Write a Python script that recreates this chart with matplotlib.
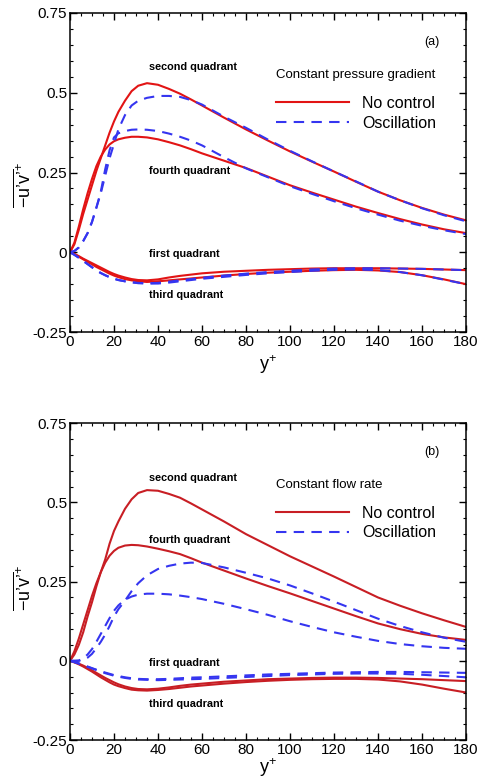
import matplotlib
matplotlib.use("Agg")
import matplotlib.pyplot as plt
from matplotlib.ticker import MultipleLocator

plt.rcParams["font.family"] = ["Liberation Sans", "DejaVu Sans"]
plt.rcParams["mathtext.fontset"] = "custom"
plt.rcParams["mathtext.rm"] = "Liberation Sans"
plt.rcParams["mathtext.it"] = "Liberation Sans"

# wall distance y+
Y_PLUS = [0, 2, 4, 6, 8, 10, 12, 14, 16, 18, 20, 22, 25, 28, 31, 35, 40, 45, 50, 55, 60,
          70, 80, 90, 100, 110, 120, 130, 140, 150, 160, 170, 180]

# (a) constant pressure gradient
A_NC_Q2 = [0, 0.025, 0.07, 0.12, 0.165, 0.21, 0.255, 0.295, 0.335, 0.375, 0.41, 0.44, 0.475,
           0.505, 0.522, 0.53, 0.525, 0.512, 0.497, 0.479, 0.46,
           0.422, 0.385, 0.35, 0.316, 0.284, 0.253, 0.221, 0.19, 0.163, 0.139, 0.118, 0.10]
A_NC_Q4 = [0, 0.03, 0.08, 0.135, 0.185, 0.23, 0.27, 0.30, 0.322, 0.338, 0.348, 0.354, 0.359,
           0.362, 0.362, 0.36, 0.354, 0.345, 0.335, 0.323, 0.31,
           0.287, 0.264, 0.237, 0.21, 0.187, 0.165, 0.143, 0.123, 0.104, 0.087, 0.072, 0.06]
A_NC_Q1 = [0, -0.005, -0.012, -0.02, -0.027, -0.034, -0.041, -0.048, -0.055, -0.062, -0.068,
           -0.073, -0.079, -0.084, -0.087, -0.088, -0.085, -0.079, -0.074, -0.07, -0.066,
           -0.061, -0.058, -0.055, -0.053, -0.051, -0.05, -0.05, -0.05, -0.051, -0.052, -0.054, -0.056]
A_NC_Q3 = [0, -0.006, -0.014, -0.022, -0.03, -0.038, -0.046, -0.053, -0.06, -0.067, -0.073,
           -0.078, -0.084, -0.088, -0.091, -0.093, -0.091, -0.088, -0.085, -0.082, -0.079,
           -0.073, -0.068, -0.064, -0.061, -0.058, -0.056, -0.055, -0.057, -0.062, -0.072, -0.085, -0.10]
A_OS_Q2 = [0, 0.004, 0.015, 0.035, 0.06, 0.095, 0.14, 0.185, 0.24, 0.295, 0.34, 0.385, 0.43,
           0.46, 0.475, 0.484, 0.49, 0.49, 0.487, 0.477, 0.463,
           0.425, 0.39, 0.353, 0.318, 0.285, 0.253, 0.222, 0.19, 0.163, 0.138, 0.116, 0.097]
A_OS_Q4 = [0, 0.004, 0.015, 0.035, 0.06, 0.095, 0.14, 0.19, 0.26, 0.32, 0.36, 0.373, 0.38,
           0.384, 0.385, 0.384, 0.38, 0.372, 0.362, 0.35, 0.335,
           0.298, 0.263, 0.235, 0.207, 0.183, 0.16, 0.138, 0.118, 0.099, 0.083, 0.069, 0.057]
A_OS_Q1 = [0, -0.008, -0.017, -0.027, -0.037, -0.047, -0.057, -0.065, -0.072, -0.078, -0.083,
           -0.087, -0.091, -0.094, -0.096, -0.097, -0.096, -0.092, -0.088, -0.084, -0.08,
           -0.073, -0.067, -0.062, -0.058, -0.054, -0.051, -0.05, -0.05, -0.051, -0.052, -0.054, -0.056]
A_OS_Q3 = [0, -0.008, -0.017, -0.027, -0.037, -0.047, -0.057, -0.065, -0.072, -0.078, -0.083,
           -0.087, -0.091, -0.094, -0.097, -0.098, -0.098, -0.095, -0.091, -0.087, -0.083,
           -0.077, -0.071, -0.066, -0.062, -0.058, -0.055, -0.054, -0.056, -0.062, -0.072, -0.086, -0.10]

# (b) constant flow rate
B_NC_Q2 = [0, 0.02, 0.05, 0.09, 0.14, 0.185, 0.235, 0.28, 0.32, 0.37, 0.41, 0.44, 0.48,
           0.51, 0.53, 0.539, 0.537, 0.527, 0.515, 0.497, 0.478,
           0.44, 0.40, 0.365, 0.33, 0.298, 0.266, 0.233, 0.20, 0.174, 0.15, 0.128, 0.107]
B_NC_Q4 = [0, 0.03, 0.07, 0.115, 0.16, 0.205, 0.245, 0.28, 0.31, 0.332, 0.347, 0.357, 0.364,
           0.366, 0.365, 0.361, 0.354, 0.346, 0.337, 0.324, 0.31,
           0.285, 0.26, 0.236, 0.213, 0.189, 0.165, 0.141, 0.118, 0.10, 0.085, 0.074, 0.066]
B_NC_Q1 = [0, -0.004, -0.009, -0.015, -0.022, -0.03, -0.038, -0.046, -0.054, -0.061, -0.068,
           -0.074, -0.081, -0.086, -0.089, -0.09, -0.088, -0.084, -0.079, -0.075, -0.072,
           -0.066, -0.062, -0.058, -0.056, -0.054, -0.053, -0.053, -0.054, -0.056, -0.058, -0.061, -0.064]
B_NC_Q3 = [0, -0.005, -0.011, -0.018, -0.026, -0.034, -0.043, -0.052, -0.06, -0.068, -0.075,
           -0.08, -0.086, -0.091, -0.093, -0.094, -0.092, -0.089, -0.085, -0.081, -0.078,
           -0.072, -0.067, -0.063, -0.06, -0.058, -0.057, -0.057, -0.059, -0.065, -0.075, -0.088, -0.10]
B_OS_Q2 = [0, 0.0, 0.0, 0.003, 0.01, 0.022, 0.04, 0.06, 0.083, 0.11, 0.14, 0.163, 0.19,
           0.22, 0.245, 0.27, 0.29, 0.30, 0.307, 0.31, 0.309,
           0.295, 0.278, 0.26, 0.238, 0.213, 0.187, 0.16, 0.133, 0.11, 0.09, 0.073, 0.06]
B_OS_Q4 = [0, 0.0, 0.001, 0.008, 0.02, 0.037, 0.06, 0.085, 0.11, 0.135, 0.158, 0.175, 0.193,
           0.203, 0.209, 0.212, 0.212, 0.21, 0.206, 0.201, 0.195,
           0.18, 0.163, 0.145, 0.125, 0.107, 0.09, 0.076, 0.063, 0.053, 0.046, 0.041, 0.038]
B_OS_Q1 = [0, -0.004, -0.008, -0.013, -0.018, -0.023, -0.028, -0.033, -0.037, -0.041, -0.045,
           -0.048, -0.052, -0.055, -0.057, -0.058, -0.058, -0.057, -0.055, -0.053, -0.052,
           -0.049, -0.046, -0.043, -0.041, -0.039, -0.037, -0.036, -0.035, -0.035, -0.036, -0.037, -0.038]
B_OS_Q3 = [0, -0.004, -0.009, -0.014, -0.019, -0.024, -0.029, -0.034, -0.039, -0.043, -0.047,
           -0.05, -0.054, -0.057, -0.059, -0.06, -0.061, -0.06, -0.059, -0.058, -0.057,
           -0.054, -0.051, -0.048, -0.045, -0.043, -0.041, -0.04, -0.04, -0.041, -0.044, -0.048, -0.052]

QUAD_LABELS = ["second quadrant", "fourth quadrant", "first quadrant", "third quadrant"]
LABEL_Y_A = [0.58, 0.255, -0.005, -0.134]
LABEL_Y_B = [0.576, 0.383, -0.008, -0.135]

BLUE = "#3535f0"
DASH = (0, (5, 3.5))


def panel(ax, nc, osc, red, tag, title, label_y, ylab_y, xpad):
    for k, c in enumerate(nc):
        ax.plot(Y_PLUS, c, "-", color=red, lw=1.5, solid_joinstyle="round",
                label="No control" if k == 0 else None)
    for k, c in enumerate(osc):
        ax.plot(Y_PLUS, c, linestyle=DASH, color=BLUE, lw=1.5, dash_joinstyle="round",
                label="Oscillation" if k == 0 else None)
    #
    ax.set_xlim(0, 180)
    ax.set_ylim(-0.25, 0.75)
    ax.xaxis.set_major_locator(MultipleLocator(20))
    ax.xaxis.set_minor_locator(MultipleLocator(5))
    ax.yaxis.set_minor_locator(MultipleLocator(0.05))
    ax.set_yticks([-0.25, 0, 0.25, 0.5, 0.75])
    ax.set_yticklabels(["-0.25", "0", "0.25", "0.5", "0.75"])
    ax.tick_params(which="both", direction="in", top=True, right=True, labelsize=11, pad=2)
    ax.tick_params(which="major", length=5, width=1)
    ax.tick_params(which="minor", length=2.5, width=0.8)
    for s in ax.spines.values():
        s.set_linewidth(1.1)
    #
    ax.set_xlabel("$y^{+}$", fontsize=13, labelpad=xpad)
    ax.set_ylabel("$\\overline{-u\u2019v\u2019}^{+}$", fontsize=13)
    ax.yaxis.set_label_coords(-0.09, ylab_y)
    #
    for t, yy in zip(QUAD_LABELS, label_y):
        ax.text(36, yy, t, fontsize=7.8, fontweight="bold", va="center", ha="left")
    ax.text(161, 0.66, tag, fontsize=9, va="center")
    ax.text(93.5, 0.556, title, fontsize=9.5, va="center")
    ax.legend(loc="upper left", bbox_to_anchor=(0.52, 0.74), frameon=False,
              fontsize=11.5, handlelength=4.6, handletextpad=0.8, labelspacing=0.3,
              borderpad=0, borderaxespad=0)


fig = plt.figure(figsize=(4.86, 7.82), dpi=100)
ax1 = fig.add_axes([0.144, 0.5754, 0.815, 0.408])
ax2 = fig.add_axes([0.144, 0.0537, 0.815, 0.405])

panel(ax1, [A_NC_Q2, A_NC_Q4, A_NC_Q1, A_NC_Q3], [A_OS_Q2, A_OS_Q4, A_OS_Q1, A_OS_Q3],
      "#e21414", "(a)", "Constant pressure gradient", LABEL_Y_A, 0.46, 3)
panel(ax2, [B_NC_Q2, B_NC_Q4, B_NC_Q1, B_NC_Q3], [B_OS_Q2, B_OS_Q4, B_OS_Q1, B_OS_Q3],
      "#c81e24", "(b)", "Constant flow rate", LABEL_Y_B, 0.48, 0)

fig.savefig("out.png", dpi=100)
